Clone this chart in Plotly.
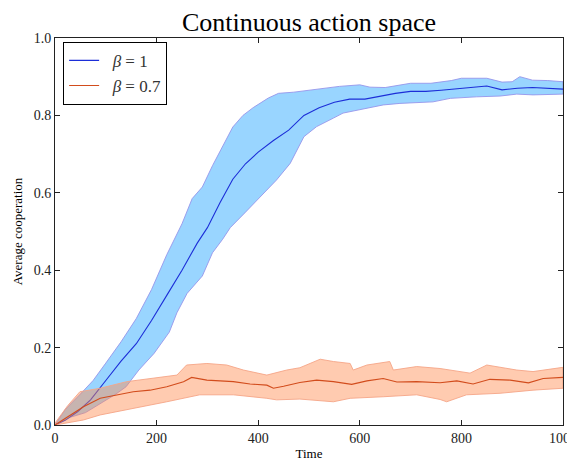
import plotly.graph_objects as go

# ---- data ----
blue_mean_x = [0, 20, 45, 70, 100, 130, 160, 190, 220, 250, 280, 300, 325, 350, 375, 400, 430, 460, 490, 520,
               550, 580, 610, 640, 670, 700, 730, 760, 790, 820, 850, 880, 910, 940, 970, 1000]
blue_mean_y = [0, 0.012, 0.035, 0.065, 0.115, 0.165, 0.21, 0.27, 0.335, 0.40, 0.47, 0.51, 0.575, 0.635, 0.675,
               0.705, 0.735, 0.762, 0.80, 0.82, 0.834, 0.842, 0.842, 0.85, 0.857, 0.862, 0.862, 0.865, 0.868,
               0.872, 0.876, 0.866, 0.87, 0.872, 0.87, 0.868]

blue_upper_x = [0, 20, 50, 75, 100, 130, 160, 190, 220, 250, 270, 290, 310, 330, 350, 370, 390, 420, 440, 470,
                500, 530, 560, 600, 620, 650, 680, 700, 740, 780, 800, 850, 880, 900, 915, 940, 970, 1000]
blue_upper_y = [0, 0.04, 0.08, 0.115, 0.16, 0.215, 0.275, 0.35, 0.44, 0.52, 0.585, 0.615, 0.67, 0.72, 0.77, 0.80,
                0.82, 0.845, 0.857, 0.86, 0.865, 0.87, 0.875, 0.879, 0.873, 0.872, 0.878, 0.883, 0.883, 0.89,
                0.896, 0.896, 0.886, 0.887, 0.9, 0.891, 0.89, 0.887]

blue_lower_x = [0, 30, 60, 90, 120, 140, 165, 195, 225, 240, 260, 290, 310, 330, 345, 375, 385, 405, 436, 463,
                476, 490, 515, 548, 567, 614, 646, 679, 744, 778, 830, 876, 909, 941, 1000]
blue_lower_y = [0, 0.02, 0.032, 0.056, 0.08, 0.099, 0.142, 0.185, 0.24, 0.29, 0.34, 0.385, 0.445, 0.48, 0.51,
                0.55, 0.565, 0.59, 0.633, 0.676, 0.71, 0.745, 0.771, 0.793, 0.806, 0.818, 0.827, 0.831, 0.835,
                0.844, 0.848, 0.85, 0.855, 0.853, 0.855]

orange_mean_x = [0, 30, 56, 89, 121, 154, 187, 220, 253, 269, 299, 351, 384, 417, 430, 450, 482, 515, 548, 584,
                 614, 646, 673, 712, 758, 791, 823, 856, 896, 932, 961, 1000]
orange_mean_y = [0, 0.025, 0.047, 0.069, 0.078, 0.086, 0.09, 0.099, 0.112, 0.123, 0.116, 0.112, 0.106, 0.103,
                 0.095, 0.1, 0.11, 0.116, 0.112, 0.105, 0.114, 0.12, 0.111, 0.112, 0.109, 0.114, 0.106, 0.118,
                 0.116, 0.109, 0.12, 0.123]

orange_upper_x = [0, 25, 49, 89, 141, 187, 240, 259, 299, 338, 371, 417, 456, 482, 522, 548, 581, 587, 614, 659,
                  666, 712, 758, 817, 850, 909, 941, 1000]
orange_upper_y = [0.005, 0.05, 0.086, 0.095, 0.112, 0.12, 0.129, 0.155, 0.159, 0.155, 0.142, 0.129, 0.142, 0.148,
                  0.17, 0.164, 0.159, 0.142, 0.155, 0.164, 0.142, 0.151, 0.146, 0.134, 0.155, 0.142, 0.138, 0.149]

orange_lower_x = [0, 56, 89, 154, 220, 285, 351, 417, 436, 482, 548, 581, 646, 712, 758, 771, 810, 876, 941, 1000]
orange_lower_y = [0, 0.013, 0.026, 0.043, 0.06, 0.078, 0.078, 0.069, 0.065, 0.067, 0.06, 0.069, 0.073, 0.078,
                  0.066, 0.06, 0.078, 0.082, 0.09, 0.095]

series_names = ["\u00a0\u00a0<i>β</i> = 1", "\u00a0\u00a0<i>β</i> = 0.7"]
x_ticks = [0, 200, 400, 600, 800, 1000]
y_ticks = [0.0, 0.2, 0.4, 0.6, 0.8, 1.0]
y_tick_text = ["0.0", "0.2", "0.4", "0.6", "0.8", "1.0"]

FONT = "Liberation Serif"

fig = go.Figure()


def band(ux, uy, lx, ly, fill, edge):
    fig.add_trace(go.Scatter(
        x=list(ux) + list(reversed(lx)),
        y=list(uy) + list(reversed(ly)),
        fill="toself", fillcolor=fill, mode="lines",
        line=dict(color=edge, width=1), showlegend=False, hoverinfo="skip"))


band(blue_upper_x, blue_upper_y, blue_lower_x, blue_lower_y, "rgba(0,150,255,0.4)", "rgba(150,150,235,0.9)")
fig.add_trace(go.Scatter(x=blue_mean_x, y=blue_mean_y, mode="lines", name=series_names[0],
                         line=dict(color="#1c2ed8", width=1.1)))
band(orange_upper_x, orange_upper_y, orange_lower_x, orange_lower_y, "rgba(255,140,80,0.45)", "rgba(245,165,135,0.9)")
fig.add_trace(go.Scatter(x=orange_mean_x, y=orange_mean_y, mode="lines", name=series_names[1],
                         line=dict(color="#d24c1c", width=1.1)))

axis_common = dict(showline=True, linecolor="#222", linewidth=1, mirror="ticks", ticks="inside",
                   ticklen=5, tickcolor="#222", showgrid=False, zeroline=False, automargin=False,
                   ticklabeloverflow="allow",
                   tickfont=dict(family=FONT, size=14, color="#222"))

fig.update_xaxes(range=[0, 1000], tickvals=x_ticks, ticktext=[str(v) for v in x_ticks],
                 title=dict(text="Time", font=dict(family=FONT, size=13, color="black"), standoff=4),
                 **axis_common)
fig.update_yaxes(range=[0, 1.0], tickvals=y_ticks, ticktext=y_tick_text,
                 title=dict(text="Average cooperation", font=dict(family=FONT, size=13, color="black"), standoff=8),
                 **axis_common)

# the page body has an 8px margin, so the figure is sized/margined to land the plot at the reference position
fig.update_layout(
    width=567, height=458,
    margin=dict(l=47, r=12, t=30, b=41),
    plot_bgcolor="white", paper_bgcolor="white",
    title=dict(text="Continuous action space", xref="paper", x=0.5, xanchor="center",
               yref="paper", y=1, yanchor="bottom", pad=dict(b=7),
               font=dict(family=FONT, size=26, color="black")),
    legend=dict(x=0.016, y=0.99, xanchor="left", yanchor="top",
                bordercolor="black", borderwidth=1, bgcolor="white",
                font=dict(family=FONT, size=17, color="#333"), itemwidth=30),
    showlegend=True,
)

fig.write_html("out.html")
